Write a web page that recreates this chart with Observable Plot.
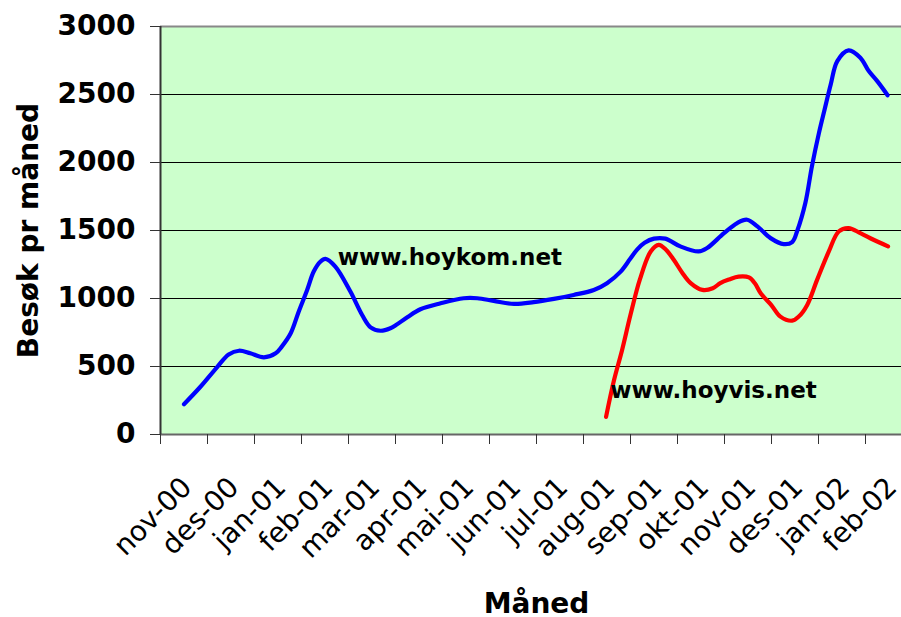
<!DOCTYPE html>
<html><head><meta charset="utf-8">
<script src="https://cdn.jsdelivr.net/npm/d3@7"></script>
<script src="https://cdn.jsdelivr.net/npm/@observablehq/plot@0.6"></script>
<style>html,body{margin:0;padding:0;overflow:hidden;background:#fff}#chart svg{max-width:none !important;display:block}</style>
</head><body><div id="chart"></div>
<script>
const months = ["nov-00","des-00","jan-01","feb-01","mar-01","apr-01","mai-01","jun-01","jul-01","aug-01","sep-01","okt-01","nov-01","des-01","jan-02","feb-02"];
const yTicks = [0, 500, 1000, 1500, 2000, 2500, 3000];

// position in months (0 = start of nov-00) and visits, www.hoykom.net
const hoykomPos = [0.50,0.85,1.21,1.45,1.67,1.91,2.20,2.45,2.58,2.77,2.94,3.12,3.26,3.40,3.51,3.72,4.04,4.29,4.47,4.68,4.89,5.01,5.25,5.53,5.96,6.45,6.74,7.09,7.52,7.94,8.37,8.79,9.22,9.50,9.79,9.99,10.14,10.30,10.50,10.74,11.06,11.45,11.63,11.99,12.27,12.48,12.70,12.98,13.26,13.44,13.55,13.72,13.86,14.01,14.13,14.26,14.40,14.64,14.89,15.07,15.25,15.47];
const hoykomVal = [223,351,498,589,616,597,567,597,646,744,903,1063,1198,1270,1292,1235,1051,879,788,763,781,805,862,921,965,1002,1002,982,960,973,997,1026,1063,1113,1198,1290,1360,1410,1440,1440,1383,1346,1371,1481,1555,1579,1530,1444,1400,1415,1500,1702,1972,2218,2390,2574,2746,2825,2771,2672,2598,2495];

// www.hoyvis.net
const hoyvisPos = [9.48,9.65,9.82,10.00,10.20,10.43,10.60,10.75,10.92,11.10,11.28,11.53,11.75,11.91,12.10,12.30,12.52,12.65,12.77,13.00,13.19,13.44,13.58,13.76,13.97,14.22,14.43,14.64,14.89,15.17,15.48];
const hoyvisVal = [130,400,620,880,1140,1346,1395,1360,1285,1190,1113,1063,1075,1113,1140,1161,1155,1110,1039,950,867,837,867,953,1137,1346,1493,1518,1481,1432,1383];

const seriesNames = ["www.hoykom.net", "www.hoyvis.net"];
const seriesColors = ["#0000ff", "#ff0000"];
const namePos = [3.77, 9.57];
const nameVal = [1304, 326];

const hoykom = hoykomPos.map((m, i) => ({m, v: hoykomVal[i]}));
const hoyvis = hoyvisPos.map((m, i) => ({m, v: hoyvisVal[i]}));
const names = seriesNames.map((s, i) => ({s, m: namePos[i], v: nameVal[i]}));

const chart = Plot.plot({
  width: 901, height: 617,
  marginLeft: 160, marginRight: -11, marginTop: 26, marginBottom: 183,
  style: {fontFamily: "DejaVu Sans", background: "#fff", color: "#000"},
  x: {domain: [0, months.length], axis: null},
  y: {domain: [0, 3000], axis: null},
  marks: [
    Plot.frame({fill: "#ccffcc", stroke: null}),
    Plot.ruleY(yTicks.filter(d => d > 0 && d < 3000), {stroke: "#000", strokeWidth: 1}),
    Plot.ruleY([3000], {stroke: "#888", strokeWidth: 2}),
    Plot.ruleY([0], {stroke: "#666", strokeWidth: 2}),
    Plot.ruleX([0], {stroke: "#333", strokeWidth: 2}),
    Plot.axisY({ticks: yTicks, tickFormat: d => String(d), tickSize: 10, tickPadding: 15, fontSize: 28, fontWeight: "bold", label: null, stroke: "#333"}),
    Plot.axisX({ticks: d3.range(months.length + 1), tickFormat: () => "", tickSize: 10, label: null, stroke: "#333"}),
    Plot.text(months, {x: (d, i) => i + 0.5, text: d => d, frameAnchor: "bottom", rotate: -45, textAnchor: "end", lineAnchor: "middle", dx: 3, dy: 48, fontSize: 28}),
    Plot.line(hoykom, {x: "m", y: "v", stroke: seriesColors[0], strokeWidth: 4.2, curve: "catmull-rom"}),
    Plot.line(hoyvis, {x: "m", y: "v", stroke: seriesColors[1], strokeWidth: 4.2, curve: "catmull-rom"}),
    Plot.text(names, {x: "m", y: "v", text: "s", textAnchor: "start", fontSize: 23, fontWeight: "bold"}),
    Plot.text(["Besøk pr måned"], {frameAnchor: "left", dx: -131, rotate: -90, textAnchor: "middle", lineAnchor: "middle", fontSize: 28, fontWeight: "bold"}),
    Plot.text(["Måned"], {frameAnchor: "bottom", dy: 170, textAnchor: "middle", lineAnchor: "middle", fontSize: 28, fontWeight: "bold"})
  ]
});
chart.style.maxWidth = "none";
document.getElementById("chart").appendChild(chart);
</script>
</body></html>
